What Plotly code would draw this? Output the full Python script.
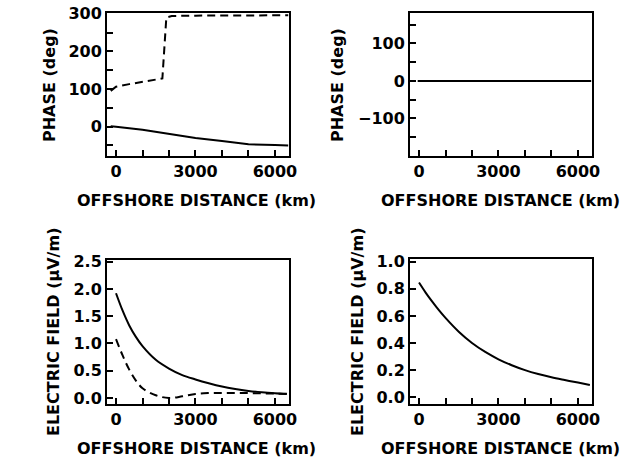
import plotly.graph_objects as go

# ---------------- data ----------------
# top-left panel (phase, deg)
tl_x_solid = [-200, 0, 1000, 2000, 3000, 4000, 4600, 5000, 6000, 6500]
tl_phase_solid = [1, 0, -8, -19, -30, -38, -44, -47, -49, -50]
tl_x_dash = [-200, 0, 500, 1000, 1500, 1750, 1900, 2100, 3000, 4000, 5000, 6500]
tl_phase_dash = [95, 106, 113, 119, 124, 128, 290, 294, 295, 295, 296, 296]

# top-right panel (phase, deg)
tr_x = [-50, 1000, 2000, 3000, 4000, 5000, 6000, 6500]
tr_phase = [0, 0, 0, 0, 0, 0, 0, 0]

# bottom panels (electric field, uV/m)
dist = [0, 250, 500, 750, 1000, 1500, 2000, 2500, 3000, 3500, 4000, 4500, 5000, 5500, 6000, 6450]
bl_field_solid = [1.92, 1.60, 1.33, 1.12, 0.95, 0.70, 0.54, 0.42, 0.34, 0.27, 0.21, 0.165,
                  0.13, 0.105, 0.088, 0.078]
bl_field_dash = [1.08, 0.78, 0.52, 0.32, 0.18, 0.05, 0.0, 0.03, 0.075, 0.09, 0.092, 0.092,
                 0.09, 0.086, 0.08, 0.075]
br_field = [0.846, 0.772, 0.705, 0.642, 0.585, 0.483, 0.40, 0.334, 0.28, 0.236, 0.20, 0.171,
            0.147, 0.127, 0.108, 0.09]

x_ticks = [0, 3000, 6000]
x_tick_text = ["0", "3000", "6000"]

FONT = "DejaVu Sans"
W, H = 633, 462

fig = go.Figure()

solid = dict(color="black", width=2)
dashed = dict(color="black", width=2, dash="8px,5px")

fig.add_trace(go.Scatter(x=tl_x_solid, y=tl_phase_solid, mode="lines", line=solid,
                         xaxis="x", yaxis="y", showlegend=False))
fig.add_trace(go.Scatter(x=tl_x_dash, y=tl_phase_dash, mode="lines", line=dashed,
                         xaxis="x", yaxis="y", showlegend=False))
fig.add_trace(go.Scatter(x=tr_x, y=tr_phase, mode="lines", line=solid,
                         xaxis="x2", yaxis="y2", showlegend=False))
fig.add_trace(go.Scatter(x=dist, y=bl_field_solid, mode="lines", line=dict(solid, shape="spline"),
                         xaxis="x3", yaxis="y3", showlegend=False))
fig.add_trace(go.Scatter(x=dist, y=bl_field_dash, mode="lines", line=dict(dashed, shape="spline"),
                         xaxis="x3", yaxis="y3", showlegend=False))
fig.add_trace(go.Scatter(x=dist, y=br_field, mode="lines", line=dict(solid, shape="spline"),
                         xaxis="x4", yaxis="y4", showlegend=False))


def px_dom(a, b, total):
    return [a / total, b / total]


def ydom(top, bottom):
    return [1 - bottom / H, 1 - top / H]


tickfont = dict(family=FONT, size=16, color="black", weight="bold")
common_axis = dict(showline=True, linecolor="black", linewidth=2, mirror=True,
                   showgrid=False, zeroline=False, ticks="inside", ticklen=6,
                   tickwidth=2, tickcolor="black", tickfont=tickfont, automargin=False)

xcommon = dict(common_axis, range=[-340, 6530], tickvals=x_ticks, ticktext=x_tick_text,
               minor=dict(ticks="inside", tickvals=list(range(0, 7000, 1000)), ticklen=6,
                          tickwidth=2, tickcolor="black"))

fig.update_layout(
    width=W, height=H,
    margin=dict(l=0, r=0, t=0, b=0),
    paper_bgcolor="white", plot_bgcolor="white",
    xaxis=dict(xcommon, domain=px_dom(107, 289, W), anchor="y"),
    yaxis=dict(common_axis, domain=ydom(13, 156), anchor="x", range=[-78, 302],
               tickvals=[0, 100, 200, 300],
               minor=dict(ticks="inside", tickvals=list(range(-50, 301, 50)), ticklen=6,
                          tickwidth=2, tickcolor="black")),
    xaxis2=dict(xcommon, domain=px_dom(410, 592, W), anchor="y2"),
    yaxis2=dict(common_axis, domain=ydom(13, 156), anchor="x2", range=[-200, 181],
                tickvals=[-100, 0, 100],
                minor=dict(ticks="inside", tickvals=list(range(-150, 151, 50)), ticklen=6,
                           tickwidth=2, tickcolor="black")),
    xaxis3=dict(xcommon, domain=px_dom(107, 289, W), anchor="y3"),
    yaxis3=dict(common_axis, domain=ydom(260, 404), anchor="x3", range=[-0.11, 2.53],
                tickvals=[0, 0.5, 1.0, 1.5, 2.0, 2.5], tickformat=".1f"),
    xaxis4=dict(xcommon, domain=px_dom(410, 592, W), anchor="y4"),
    yaxis4=dict(common_axis, domain=ydom(259, 404), anchor="x4", range=[-0.05, 1.02],
                tickvals=[0, 0.2, 0.4, 0.6, 0.8, 1.0], tickformat=".1f"),
)

titlefont = dict(family=FONT, size=16, color="black", weight="bold")


def ann(text, xpx, ypx, angle=0):
    fig.add_annotation(text=text, x=xpx / W, y=1 - ypx / H, xref="paper", yref="paper",
                       showarrow=False, textangle=angle, font=titlefont,
                       xanchor="center", yanchor="middle")


ann("OFFSHORE DISTANCE (km)", 196, 200)
ann("OFFSHORE DISTANCE (km)", 500, 200)
ann("OFFSHORE DISTANCE (km)", 196, 448)
ann("OFFSHORE DISTANCE (km)", 500, 448)
ann("PHASE (deg)", 50, 85, -90)
ann("PHASE (deg)", 338, 85, -90)
ann("ELECTRIC FIELD (μV/m)", 53, 332, -90)
ann("ELECTRIC FIELD (μV/m)", 357, 332, -90)

fig.write_html("out.html")
